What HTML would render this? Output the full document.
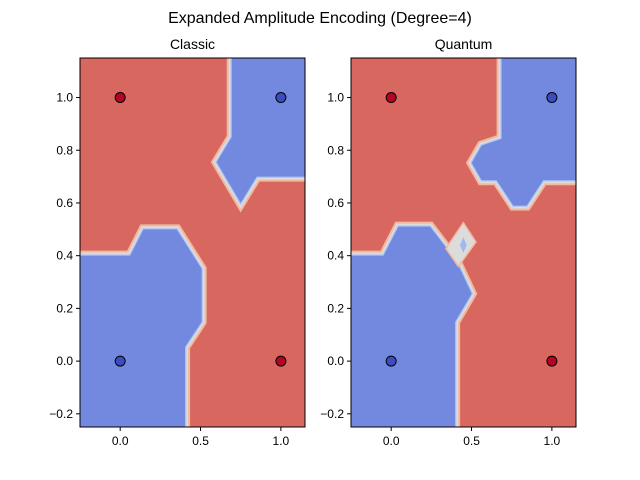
<!DOCTYPE html>
<html><head><meta charset="utf-8"><style>
body{margin:0;background:#fff;}
svg{display:block;font-family:"Liberation Sans",sans-serif;}
</style></head><body>
<svg id="fig" width="640" height="480">
<text x="320" y="23" text-anchor="middle" font-size="16">Expanded Amplitude Encoding (Degree=4)</text>
</svg>
<script>
const pointX = [0, 1, 0, 1];
const pointY = [0, 0, 1, 1];
const pointLabel = [0, 1, 1, 0];
const xTicks = [0.0, 0.5, 1.0];
const yTicks = [-0.2, 0.0, 0.2, 0.4, 0.6, 0.8, 1.0];
const xTickLabels = ["0.0", "0.5", "1.0"];
const yTickLabels = ["\u22120.2", "0.0", "0.2", "0.4", "0.6", "0.8", "1.0"];
const classicBlueBL = [[-0.25,-0.25],[-0.25,0.40],[0.062,0.40],[0.145,0.50],[0.352,0.50],[0.507,0.35],[0.507,0.149],[0.404,0.054],[0.404,-0.25]];
const classicBlueTR = [[0.694,1.15],[0.694,0.85],[0.60,0.755],[0.75,0.60],[0.85,0.70],[1.15,0.70],[1.15,1.15]];
const quantumBlueBL = [[-0.25,-0.25],[-0.25,0.40],[-0.048,0.40],[0.045,0.51],[0.242,0.51],[0.346,0.427],[0.418,0.364],[0.501,0.256],[0.398,0.149],[0.398,-0.25]];
const quantumBlueTR = [[0.687,1.15],[0.687,0.843],[0.563,0.818],[0.501,0.752],[0.563,0.686],[0.656,0.686],[0.76,0.59],[0.843,0.59],[0.946,0.686],[1.15,0.686],[1.15,1.15]];
const quantumGray = [[0.346,0.427],[0.449,0.52],[0.522,0.452],[0.418,0.364]];
const quantumDiamond = [[0.449,0.47],[0.47,0.44],[0.449,0.41],[0.428,0.44]];

const NS="http://www.w3.org/2000/svg";
const svg=document.getElementById('fig');
function mk(t,a,p){const e=document.createElementNS(NS,t);for(const k in a)e.setAttribute(k,a[k]);(p||svg).appendChild(e);return e;}
const RED="#d8675f", BLUE="#7389df";
function panel(left, title, regions, extra, showY){
  const W=225, H=369, top=58;
  const sx=v=>left+(v+0.25)/1.4*W;
  const sy=v=>top+(1.15-v)/1.4*H;
  const g=mk('g',{});
  
  
  const cid='clip'+left;
  const cp=mk('clipPath',{id:cid},g); mk('rect',{x:left,y:top,width:W,height:H},cp);
  const plot=mk('g',{'clip-path':'url(#'+cid+')'},g);
  const bg=mk('rect',{x:left,y:top,width:W,height:H,fill:RED},plot);
  
  
  const pts=poly=>poly.map(p=>sx(p[0])+','+sy(p[1])).join(' ');
  regions.forEach(poly=>{
    const s=pts(poly);
    mk('polygon',{points:s,fill:'none',stroke:'#f2b9a0','stroke-width':10,'stroke-linejoin':'miter'},plot);
    mk('polygon',{points:s,fill:'none',stroke:'#dddcdc','stroke-width':6},plot);
    mk('polygon',{points:s,fill:'none',stroke:'#b0c6f2','stroke-width':2.5},plot);
    const b=mk('polygon',{points:s,fill:BLUE},plot);
    
    
  });
  if(extra){
    const gs=pts(extra.gray);
    mk('polygon',{points:gs,fill:'#dddcdc',stroke:'#f2b9a0','stroke-width':3},plot);
    const gp=mk('polygon',{points:gs,fill:'#dddcdc'},plot);
    
    
    const d=mk('polygon',{points:pts(extra.diamond),fill:'#9fb8ef'},plot);
    
    
  }
  for(let i=0;i<pointX.length;i++){
    const c=mk('circle',{cx:sx(pointX[i]),cy:sy(pointY[i]),r:5,fill:pointLabel[i]?'#b40426':'#3b4cc0',stroke:'#000','stroke-width':1},plot);
    
    
  }
  const fr=mk('rect',{x:left,y:top,width:W,height:H,fill:'none',stroke:'#000','stroke-width':1},g);
  
  
  xTicks.forEach((v,i)=>{
    mk('line',{x1:sx(v),x2:sx(v),y1:top+H,y2:top+H+4,stroke:'#000'},g);
    const t=mk('text',{x:sx(v),y:top+H+18,'text-anchor':'middle','font-size':12},g);
    t.textContent=xTickLabels[i];
    
    
  });
  yTicks.forEach((v,i)=>{
    mk('line',{x1:left-4,x2:left,y1:sy(v),y2:sy(v),stroke:'#000'},g);
    if(showY){
      const t=mk('text',{x:left-7,y:sy(v)+4,'text-anchor':'end','font-size':12},g);
      t.textContent=yTickLabels[i];
      
      
    }
  });
  const tt=mk('text',{x:left+W/2,y:top-9,'text-anchor':'middle','font-size':14},g);
  tt.textContent=title;
  
  
}
panel(80,'Classic',[classicBlueBL,classicBlueTR],null,true);
panel(351,'Quantum',[quantumBlueBL,quantumBlueTR],{gray:quantumGray,diamond:quantumDiamond},true);
</script>
</body></html>
